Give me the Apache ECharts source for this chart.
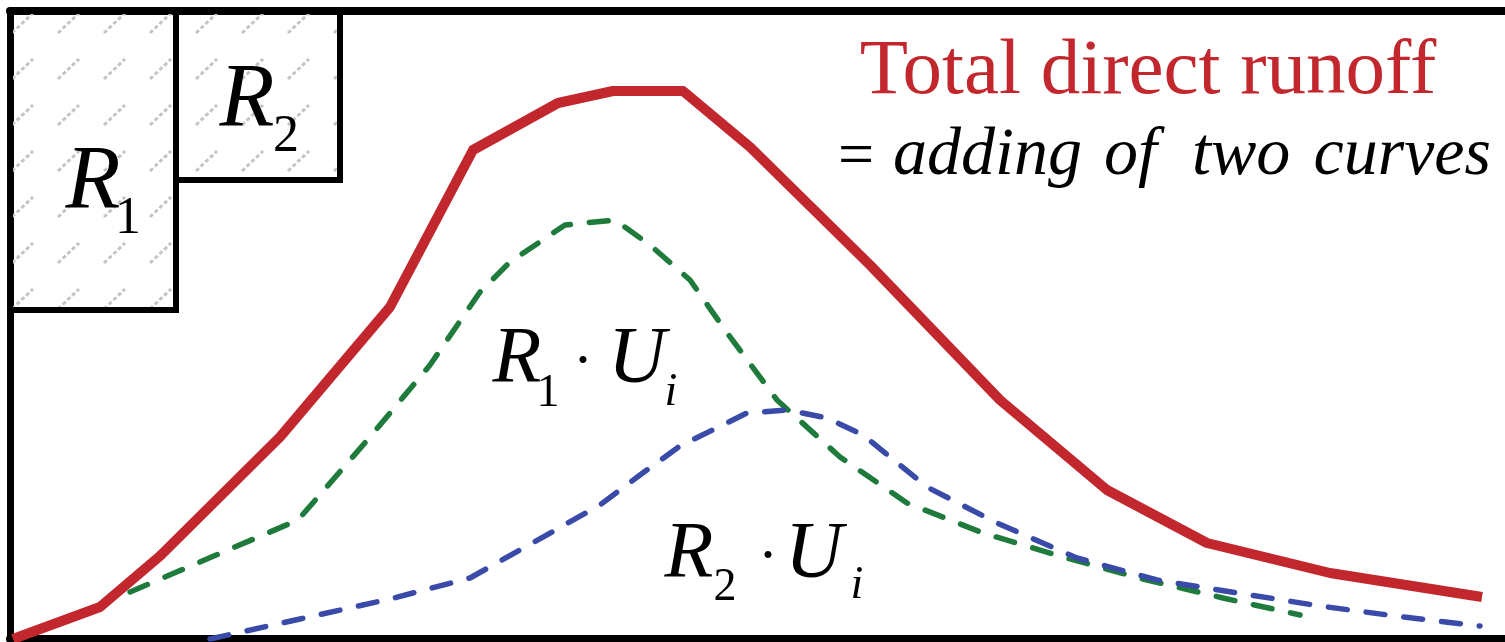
<!DOCTYPE html>
<html>
<head>
<meta charset="utf-8">
<script src="https://cdn.jsdelivr.net/npm/echarts@6/dist/echarts.min.js"></script>
<style>
  html, body { margin: 0; padding: 0; background: #fff; }
  #chart { width: 1505px; height: 642px; }
</style>
</head>
<body>
<div id="chart"></div>
<script>
// time (x) and runoff (y) in plot units
const X_MAX = 14.95;
const Y_MAX = 6.28;

// rainfall excess blocks hanging from the top: [start, end, depth]
const rainStart = [0, 1.66];
const rainEnd = [1.66, 3.3];
const rainDepth = [2.99, 1.69];

// total direct runoff (red)
const totalT = [0.03, 0.9, 1.5, 2.7, 3.8, 4.63, 5.48, 6.03, 6.73, 7.4, 8.6, 9.9, 10.97, 11.97, 13.2, 14.72];
const totalQ = [0.0, 0.32, 0.83, 2.02, 3.32, 4.89, 5.36, 5.48, 5.48, 4.92, 3.74, 2.39, 1.49, 0.96, 0.66, 0.42];

// R1 * Ui (green)
const r1T = [1.2, 2.88, 3.6, 4.2, 4.7, 5.0, 5.55, 6.05, 6.4, 6.8, 7.15, 7.67, 8.3, 8.97, 9.73, 10.53, 11.33, 12.13, 12.9];
const r1Q = [0.47, 1.19, 2.02, 2.74, 3.47, 3.77, 4.14, 4.19, 3.94, 3.59, 3.09, 2.39, 1.82, 1.36, 1.06, 0.82, 0.6, 0.41, 0.24];

// R2 * Ui (blue)
const r2T = [2.0, 2.9, 3.8, 4.6, 5.9, 6.3, 6.7, 7.37, 7.77, 8.17, 8.53, 9.17, 9.87, 10.67, 11.47, 12.28, 13.1, 13.93, 14.7];
const r2Q = [0.0, 0.2, 0.4, 0.61, 1.34, 1.64, 1.93, 2.26, 2.29, 2.21, 2.04, 1.52, 1.16, 0.81, 0.59, 0.46, 0.33, 0.22, 0.13];

const RED = '#c1272d';
const GREEN = '#1e7b3c';
const BLUE = '#3a4aa8';
const SERIF = '"Liberation Serif"';

function pairs(xs, ys) {
  return xs.map((x, i) => [x, ys[i]]);
}

// hatch tile: short dashed diagonal strokes in light grey
function hatchTile() {
  const c = document.createElement('canvas');
  c.width = 46;
  c.height = 46;
  const ctx = c.getContext('2d');
  ctx.strokeStyle = '#c4c4c4';
  ctx.lineWidth = 3;
  ctx.setLineDash([4, 2.5]);
  ctx.beginPath();
  ctx.moveTo(12, 33);
  ctx.lineTo(33, 13);
  ctx.stroke();
  return c;
}

function txt(text, x, y, size, italic, color, align) {
  return {
    type: 'text',
    x: x,
    y: y,
    z: 100,
    style: {
      text: text,
      font: (italic ? 'italic ' : '') + size + 'px ' + SERIF,
      fill: color || '#000',
      textAlign: align || 'center',
      textVerticalAlign: 'middle'
    }
  };
}

function draw() {
  const chart = echarts.init(document.getElementById('chart'));
  const hatch = { image: hatchTile(), repeat: 'repeat' };

  const option = {
    backgroundColor: '#fff',
    animation: false,
    grid: { left: 10, right: 0, top: 11, bottom: 3 },
    xAxis: [
      {
        type: 'value', min: 0, max: X_MAX, position: 'bottom',
        axisLine: { show: true, lineStyle: { color: '#000', width: 8 } },
        axisTick: { show: false }, axisLabel: { show: false }, splitLine: { show: false }
      },
      {
        type: 'value', min: 0, max: X_MAX, position: 'top',
        axisLine: { show: true, lineStyle: { color: '#000', width: 8 } },
        axisTick: { show: false }, axisLabel: { show: false }, splitLine: { show: false }
      }
    ],
    yAxis: {
      type: 'value', min: 0, max: Y_MAX,
      axisLine: { show: true, lineStyle: { color: '#000', width: 7 } },
      axisTick: { show: false }, axisLabel: { show: false }, splitLine: { show: false }
    },
    series: [
      {
        type: 'custom',
        z: 1,
        data: rainStart.map((s, i) => [s, rainEnd[i], rainDepth[i]]),
        renderItem: function (params, api) {
          const p0 = api.coord([api.value(0), Y_MAX]);
          const p1 = api.coord([api.value(1), Y_MAX - api.value(2)]);
          return {
            type: 'rect',
            shape: { x: p0[0], y: p0[1], width: p1[0] - p0[0], height: p1[1] - p0[1] },
            style: { fill: hatch, stroke: '#000', lineWidth: 6 }
          };
        }
      },
      {
        name: 'R1·Ui',
        type: 'line',
        z: 2,
        data: pairs(r1T, r1Q),
        symbol: 'none',
        lineStyle: { color: GREEN, width: 5.5, type: [19, 19], cap: 'round' }
      },
      {
        name: 'R2·Ui',
        type: 'line',
        z: 3,
        data: pairs(r2T, r2Q),
        symbol: 'none',
        lineStyle: { color: BLUE, width: 5.5, type: [19, 19], cap: 'round' }
      },
      {
        name: 'Total direct runoff',
        type: 'line',
        z: 4,
        data: pairs(totalT, totalQ),
        symbol: 'none',
        lineStyle: { color: RED, width: 10, join: 'round' }
      }
    ],
    graphic: [
      txt('Total direct runoff', 1148, 72, 79, false, RED),
      txt('=', 856, 158, 64, false),
      txt('adding', 893, 156, 68, true, '#000', 'left'),
      txt('of', 1104, 156, 68, true, '#000', 'left'),
      txt('two', 1192, 156, 68, true, '#000', 'left'),
      txt('curves', 1491, 156, 68, true, '#000', 'right'),
      // rain block labels
      txt('R', 93, 184, 90, true),
      txt('1', 128, 219, 52, false),
      txt('R', 247, 102, 90, true),
      txt('2', 286, 137, 52, false),
      // R1 · Ui
      txt('R', 517, 361, 80, true),
      txt('1', 548, 394, 46, false),
      txt('·', 583, 363, 60, false),
      txt('U', 637, 361, 80, true),
      txt('i', 671, 393, 46, true),
      // R2 · Ui
      txt('R', 689, 556, 80, true),
      txt('2', 725, 588, 46, false),
      txt('·', 768, 558, 60, false),
      txt('U', 814, 556, 80, true),
      txt('i', 857, 586, 46, true)
    ]
  };

  chart.setOption(option);
}

// make sure the italic face is ready before the canvas is painted
Promise.all([
  document.fonts.load('italic 70px "Liberation Serif"'),
  document.fonts.load('70px "Liberation Serif"')
]).then(draw, draw);
</script>
</body>
</html>
